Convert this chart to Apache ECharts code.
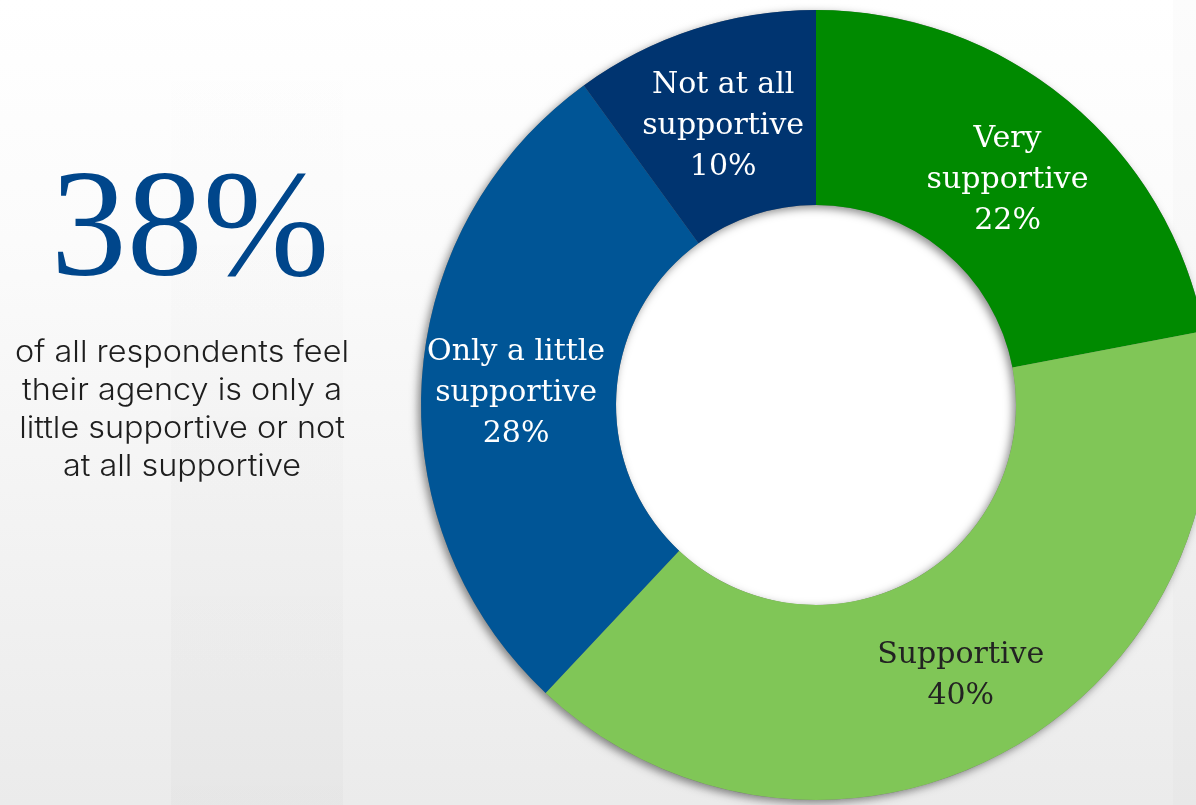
<!DOCTYPE html>
<html>
<head>
<meta charset="utf-8">
<title>Agency support</title>
<script src="https://cdn.jsdelivr.net/npm/echarts@6/dist/echarts.min.js"></script>
<style>
  html, body { margin: 0; padding: 0; background: #fff; }
  #chart { width: 1196px; height: 805px; }
</style>
</head>
<body>
<div id="chart"></div>
<script>
// Survey answers: how supportive is the respondent's agency
const categories = ['Very supportive', 'Supportive', 'Only a little supportive', 'Not at all supportive'];
const labelNames = ['Very\nsupportive', 'Supportive', 'Only a little\nsupportive', 'Not at all\nsupportive'];
const shares = [22, 40, 28, 10];
const sliceColors = ['#008a00', '#80c657', '#005596', '#003470'];
const labelColors = ['#ffffff', '#222222', '#ffffff', '#ffffff'];

// Headline figure and caption
const headline = '38%';
const captionLines = [
  'of all respondents feel',
  'their agency is only a',
  'little supportive or not',
  'at all supportive'
];

const chart = echarts.init(document.getElementById('chart'), null, { renderer: 'canvas' });

const CENTER = [816, 405];
const RADIUS = [200, 395];

const sliceData = categories.map((name, i) => ({
  name: name,
  value: shares[i],
  itemStyle: { color: sliceColors[i] },
  label: { color: labelColors[i] }
}));

chart.setOption({
  animation: false,
  title: {
    text: headline,
    left: 190,
    top: 155,
    textAlign: 'center',
    padding: 0,
    textStyle: {
      fontFamily: 'Liberation Serif',
      fontSize: 152,
      fontWeight: 'normal',
      lineHeight: 160,
      color: '#00468b'
    }
  },
  graphic: [
    {
      type: 'rect', z: -10, silent: true,
      shape: { x: 0, y: 0, width: 1196, height: 805 },
      style: {
        fill: new echarts.graphic.LinearGradient(0, 0, 0, 1, [
          { offset: 0, color: '#ffffff' },
          { offset: 0.3, color: '#fbfbfb' },
          { offset: 1, color: '#ebebeb' }
        ])
      }
    },
    {
      type: 'rect', z: -9, silent: true,
      shape: { x: 171, y: 0, width: 172, height: 805 },
      style: {
        fill: new echarts.graphic.LinearGradient(0, 0, 0, 1, [
          { offset: 0, color: 'rgba(0,0,0,0)' },
          { offset: 1, color: 'rgba(0,0,0,0.02)' }
        ])
      }
    },
    {
      type: 'rect', z: -9, silent: true,
      shape: { x: 1173, y: 0, width: 23, height: 805 },
      style: { fill: 'rgba(0,0,0,0.012)' }
    },
    {
      type: 'text', z: 10,
      x: 182, y: 334,
      scaleX: 1.08,
      style: {
        text: captionLines.join('\n'),
        fontFamily: 'Inter',
        fontWeight: 300,
        fontSize: 30,
        lineHeight: 38,
        fill: '#1e1e1e',
        textAlign: 'center',
        textVerticalAlign: 'top'
      }
    }
  ],
  series: [
    {
      // white disk filling the hole of the ring
      type: 'pie',
      silent: true,
      center: CENTER,
      radius: [0, RADIUS[0] + 2],
      z: 0,
      label: { show: false },
      labelLine: { show: false },
      itemStyle: { color: '#ffffff' },
      data: [{ name: 'hole', value: 1 }]
    },
    {
      // full ring underneath, only to cast the soft shadow
      type: 'pie',
      silent: true,
      center: CENTER,
      radius: RADIUS,
      z: 1,
      label: { show: false },
      labelLine: { show: false },
      itemStyle: {
        color: '#777',
        shadowBlur: 8,
        shadowColor: 'rgba(0,0,0,0.45)',
        shadowOffsetX: -3,
        shadowOffsetY: 3
      },
      data: [{ name: 'ring', value: 1 }]
    },
    {
      type: 'pie',
      center: CENTER,
      radius: RADIUS,
      startAngle: 90,
      clockwise: true,
      z: 2,
      itemStyle: { borderWidth: 0 },
      label: {
        show: true,
        position: 'inside',
        fontFamily: 'DejaVu Serif',
        fontSize: 30,
        lineHeight: 41,
        align: 'center',
        offset: [0, 7],
        formatter: p => labelNames[p.dataIndex] + '\n' + p.value + '%'
      },
      labelLine: { show: false },
      emphasis: { disabled: true },
      data: sliceData
    }
  ]
});
</script>
</body>
</html>
